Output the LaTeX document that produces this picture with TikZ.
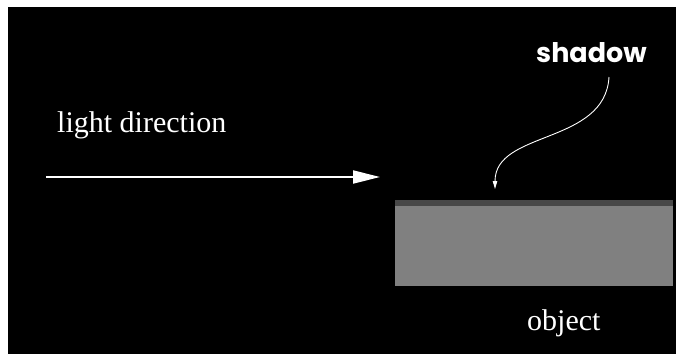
\documentclass[tikz,border=0pt]{standalone}
\usepackage{fontspec}
\setmainfont{Liberation Serif}
\newfontfamily\poppfont{Poppins}
\usetikzlibrary{arrows.meta}
\definecolor{objgray}{HTML}{808080}
\definecolor{shadowgray}{HTML}{484848}
\tikzset{
  lbl/.style={text=white, inner sep=0pt, anchor=base west, font=\fontsize{30}{32}\selectfont},
  shlbl/.style={text=white, inner sep=0pt, anchor=base west, font=\poppfont\bfseries\fontsize{27}{30}\selectfont},
  bigarrow/.style={draw=white, line width=2pt, -{Triangle[length=27pt,width=13pt]}},
  smallarrow/.style={draw=white, line width=0.9pt, -{Triangle[length=8pt,width=4.5pt]}}
}
\begin{document}
\begin{tikzpicture}[x=1pt,y=-1pt]
\useasboundingbox (0,0) rectangle (676,354);
\fill[white] (0,0) rectangle (676,354);
\fill[black] (8,7) rectangle (676,354);
% object
\fill[objgray] (395,200) rectangle (673,286);
\fill[shadowgray] (395,200) rectangle (673,206);
% labels
\node[lbl] (light) at (57,132) {light direction};
\node[lbl] (object) at (527,330) {object};
\node[shlbl] (shadow) at (536,62) {shadow};
% arrows
\coordinate (ls) at (46,177);
\coordinate (le) at (380,177);
\draw[bigarrow] (ls) -- (le);
\coordinate (cs) at (609,77);
\coordinate (ce) at (495,189);
\draw[smallarrow] (cs) .. controls (605,145) and (495,130) .. (ce);
\end{tikzpicture}
\end{document}
